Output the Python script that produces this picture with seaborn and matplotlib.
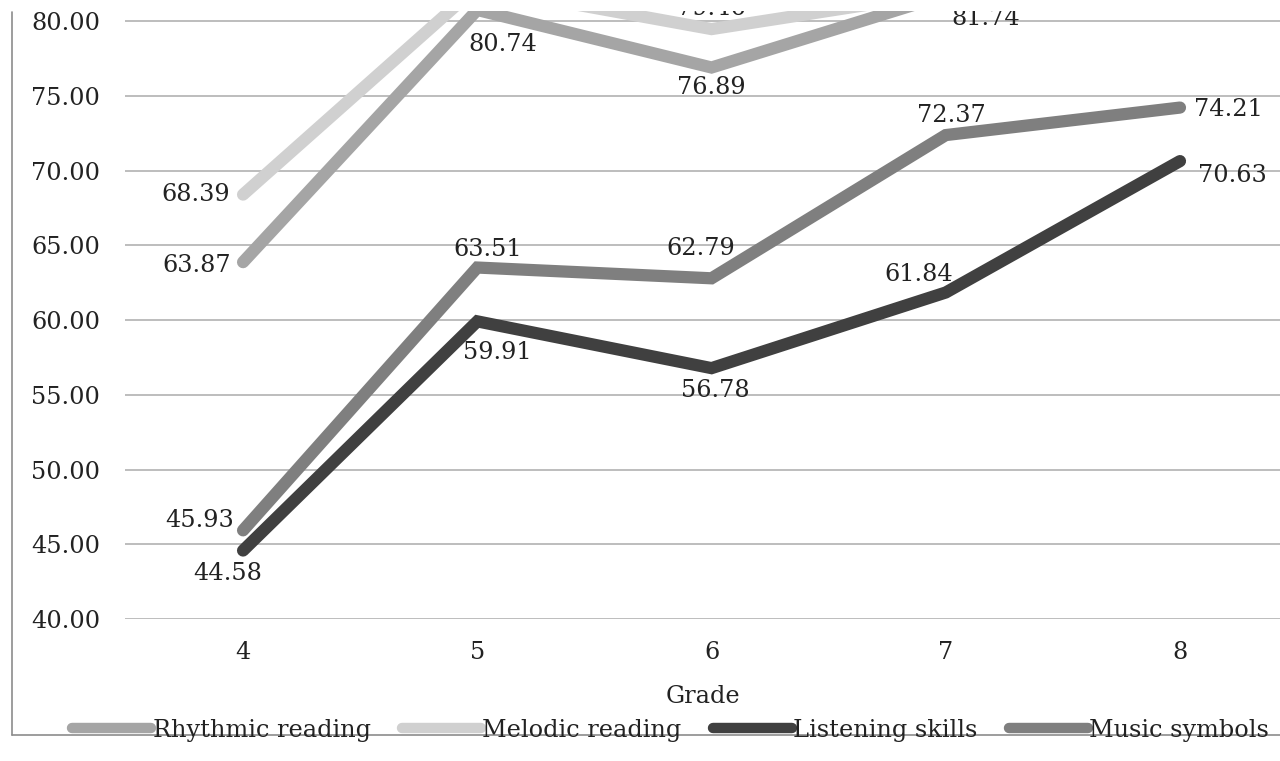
import matplotlib
matplotlib.use("Agg")
import matplotlib.pyplot as plt
import seaborn as sns
import pandas as pd
from matplotlib.lines import Line2D

grades = [4, 5, 6, 7, 8]
series_names = ["Rhythmic reading", "Melodic reading", "Listening skills", "Music symbols"]
rhythmic = [63.87, 80.74, 76.89, 81.74, 84.50]
melodic = [68.39, 82.30, 79.46, 81.90, 86.00]
listening = [44.58, 59.91, 56.78, 61.84, 70.63]
symbols = [45.93, 63.51, 62.79, 72.37, 74.21]
colors = ["#a5a5a5", "#d0d0d0", "#404040", "#7f7f7f"]
yticks = [40, 45, 50, 55, 60, 65, 70, 75, 80]

# label offsets in pixels (dx, dy)
offsets = {
    "Rhythmic reading": [(-46, -3), (26, -35), (0, -20), (40, -23), (52, 0)],
    "Melodic reading": [(-47, 0), (0, 24), (0, 21), (0, 24), (52, 0)],
    "Listening skills": [(-15, -23), (20, -31), (4, -22), (-27, 18), (52, -14)],
    "Music symbols": [(-43, 10), (10, 18), (-11, 30), (6, 20), (48, -2)],
}

values = {"Rhythmic reading": rhythmic, "Melodic reading": melodic,
          "Listening skills": listening, "Music symbols": symbols}
rows = []
for name in series_names:
    for g, v in zip(grades, values[name]):
        rows.append({"Grade": g, "Score": v, "Series": name})
df = pd.DataFrame(rows)

sns.set_theme(style="white")
plt.rcParams["font.family"] = ["DejaVu Serif"]
FS = 17.3

fig = plt.figure(figsize=(12.8, 7.61), dpi=100)
ax = fig.add_axes([125 / 1280, 1 - 619 / 761, 1 - 125 / 1280, (619 - 11) / 761])

sns.lineplot(data=df, x="Grade", y="Score", hue="Series", hue_order=series_names,
             palette=colors, linewidth=8.8, ax=ax, legend=False,
             solid_capstyle="round", solid_joinstyle="miter")

ax.set_ylim(40, 80.67)
ax.set_xlim(4 - 0.504, 8 + 0.427)
ax.set_yticks(yticks)
ax.set_yticklabels([f"{t:.2f}" for t in yticks])
ax.set_xticks(grades)
ax.set_xticklabels([str(g) for g in grades])
ax.grid(axis="y", color="#bdbdbd", linewidth=1.4)
ax.grid(axis="x", visible=False)
ax.set_axisbelow(True)
for s in ax.spines.values():
    s.set_visible(False)
ax.tick_params(axis="both", length=0, labelsize=FS, colors="#222222")
ax.tick_params(axis="x", pad=16)
ax.tick_params(axis="y", pad=18)
ax.set_ylabel("")
ax.set_xlabel("Grade", fontsize=FS, color="#222222", labelpad=15)

for name in series_names:
    for g, v, (dx, dy) in zip(grades, values[name], offsets[name]):
        ax.annotate(f"{v:.2f}", (g, v), xytext=(dx, dy), textcoords="offset pixels",
                    ha="center", va="center", fontsize=FS, color="#222222",
                    annotation_clip=False, clip_on=True)

handles = [Line2D([0], [0], color=c, lw=7.5, solid_capstyle="round") for c in colors]
fig.legend(handles, series_names, loc="center", bbox_to_anchor=(0.524, 1 - 730 / 761),
           ncol=4, frameon=False, fontsize=FS, handlelength=3.3, handletextpad=0.05,
           columnspacing=1.3, labelcolor="#222222")

# outer frame lines
fig.add_artist(Line2D([12 / 1280, 12 / 1280], [1 - 735 / 761, 1 - 12 / 761],
                      transform=fig.transFigure, color="#8c8c8c", lw=1.2))
fig.add_artist(Line2D([12 / 1280, 1.0], [1 - 735 / 761, 1 - 735 / 761],
                      transform=fig.transFigure, color="#8c8c8c", lw=1.2))

fig.savefig("out.png", dpi=100)
